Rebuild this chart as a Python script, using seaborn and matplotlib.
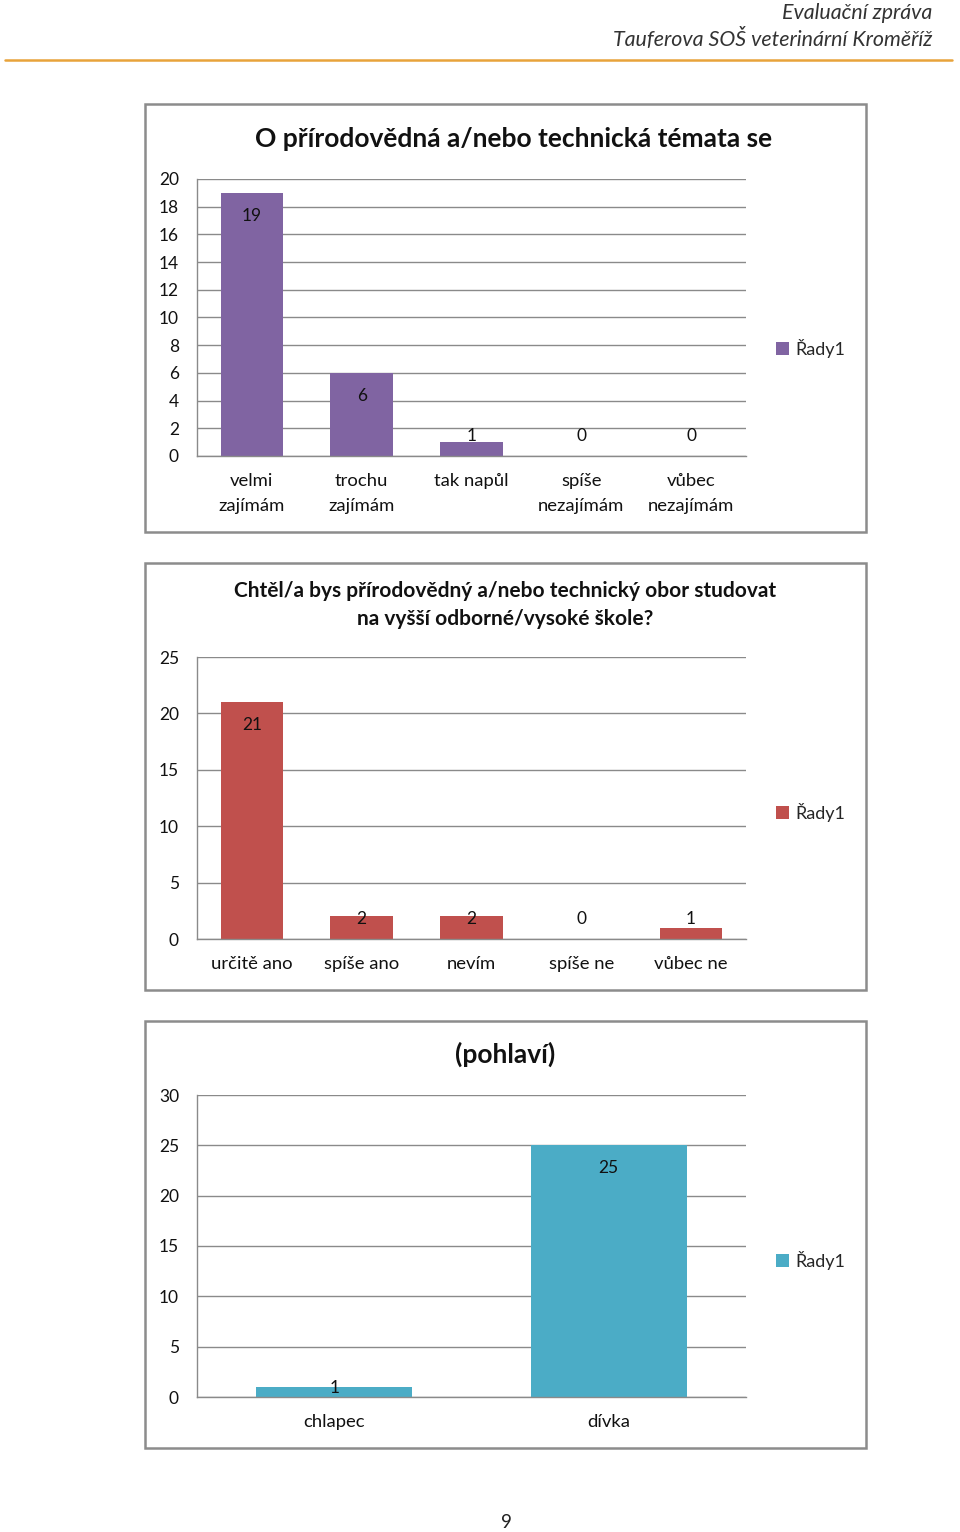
import matplotlib
matplotlib.use("Agg")
import matplotlib.pyplot as plt
from matplotlib.patches import Rectangle, Patch
from matplotlib.lines import Line2D
import seaborn as sns
import pandas as pd

# ---------------- data ----------------
title1 = "O přírodovědná a/nebo technická témata se"
cats1 = ["velmi\nzajímám", "trochu\nzajímám", "tak napůl", "spíše\nnezajímám", "vůbec\nnezajímám"]
vals1 = [19, 6, 1, 0, 0]
ticks1 = [0, 2, 4, 6, 8, 10, 12, 14, 16, 18, 20]

title2 = "Chtěl/a bys přírodovědný a/nebo technický obor studovat\nna vyšší odborné/vysoké škole?"
cats2 = ["určitě ano", "spíše ano", "nevím", "spíše ne", "vůbec ne"]
vals2 = [21, 2, 2, 0, 1]
ticks2 = [0, 5, 10, 15, 20, 25]

title3 = "(pohlaví)"
cats3 = ["chlapec", "dívka"]
vals3 = [1, 25]
ticks3 = [0, 5, 10, 15, 20, 25, 30]

series_name = "Řady1"
header1 = "Evaluační zpráva"
header2 = "Tauferova SOŠ veterinární Kroměříž"
page_no = "9"

# ---------------- style ----------------
sns.set_theme(style="white")
plt.rcParams["font.family"] = ["Lato", "DejaVu Sans"]

W, H = 960, 1532
fig = plt.figure(figsize=(W / 100, H / 100), dpi=100)
fig.patch.set_facecolor("white")

def fx(x):
    return x / W

def fy(y):
    return 1 - y / H

# header
fig.text(fx(932), fy(13), header1, ha="right", va="center", fontsize=15.4, style="italic", color="#333333")
fig.text(fx(932), fy(39), header2, ha="right", va="center", fontsize=15.4, style="italic", color="#333333")
fig.add_artist(Line2D([fx(5), fx(952)], [fy(60), fy(60)], color="#E8A33A", lw=1.8, transform=fig.transFigure))
fig.text(fx(506), fy(1523), page_no, ha="center", va="center", fontsize=13.5, color="#222222")

GRID = "#8a8a8a"

def chart(box, plot, title, title_xy, title_size, cats, vals, ticks, color, label_min, legend_y, width):
    bx0, by0, bx1, by1 = box
    fig.add_artist(Rectangle((fx(bx0), fy(by1)), fx(bx1 - bx0), (by1 - by0) / H,
                             transform=fig.transFigure, fill=False, edgecolor="#8c8c8c", lw=1.8))
    px0, py0, px1, py1 = plot
    ax = fig.add_axes([fx(px0), fy(py1), fx(px1 - px0), (py1 - py0) / H])
    df = pd.DataFrame({"cat": cats, "val": vals})
    sns.barplot(data=df, x="cat", y="val", color=color, saturation=1, width=width,
                linewidth=0, edgecolor="none", ax=ax)
    ax.set_ylim(ticks[0], ticks[-1])
    ax.set_yticks(ticks)
    ax.set_yticklabels([str(t) for t in ticks])
    ax.yaxis.grid(True, color=GRID, lw=1.0)
    ax.set_axisbelow(True)
    ax.set_xlabel("")
    ax.set_ylabel("")
    for s in ["top", "right"]:
        ax.spines[s].set_visible(False)
    for s in ["left", "bottom"]:
        ax.spines[s].set_color(GRID)
        ax.spines[s].set_linewidth(1.0)
    ax.tick_params(axis="y", length=0, pad=13, labelsize=12.5, labelcolor="#111111")
    ax.tick_params(axis="x", length=0, pad=12, labelsize=13.3, labelcolor="#111111")
    for lab in ax.get_xticklabels():
        lab.set_linespacing(1.75)
    # data labels
    for i, v in enumerate(vals):
        ytop = max(v, label_min)
        ax.annotate(str(v), (i, ytop), xytext=(0, -23), textcoords="offset pixels",
                    ha="center", va="center", fontsize=12.5, color="#111111")
    # title
    fig.text(fx(title_xy[0]), fy(title_xy[1]), title, ha="center", va="center", fontsize=title_size,
             fontweight="bold", color="#111111", linespacing=1.45)
    # legend
    h = Patch(facecolor=color, edgecolor="none")
    fig.legend([h], [series_name], loc="center left", bbox_to_anchor=(fx(760), fy(legend_y)),
               frameon=False, fontsize=13, handlelength=0.7, handleheight=0.7, handletextpad=0.35)
    return ax

chart((145, 104, 866, 532), (197, 179, 746, 456), title1, (514, 139), 19, cats1, vals1, ticks1,
      "#8064A2", 3.1, 348, 0.57)
chart((145, 563, 866, 990), (197, 657, 746, 939), title2, (505, 605), 15, cats2, vals2, ticks2,
      "#C0504D", 3.8, 812, 0.57)
chart((145, 1021, 866, 1448), (197, 1095, 746, 1397), title3, (505, 1054), 19, cats3, vals3, ticks3,
      "#4BACC6", 3.2, 1260, 0.57)

fig.savefig("out.png", dpi=100, facecolor="white")
